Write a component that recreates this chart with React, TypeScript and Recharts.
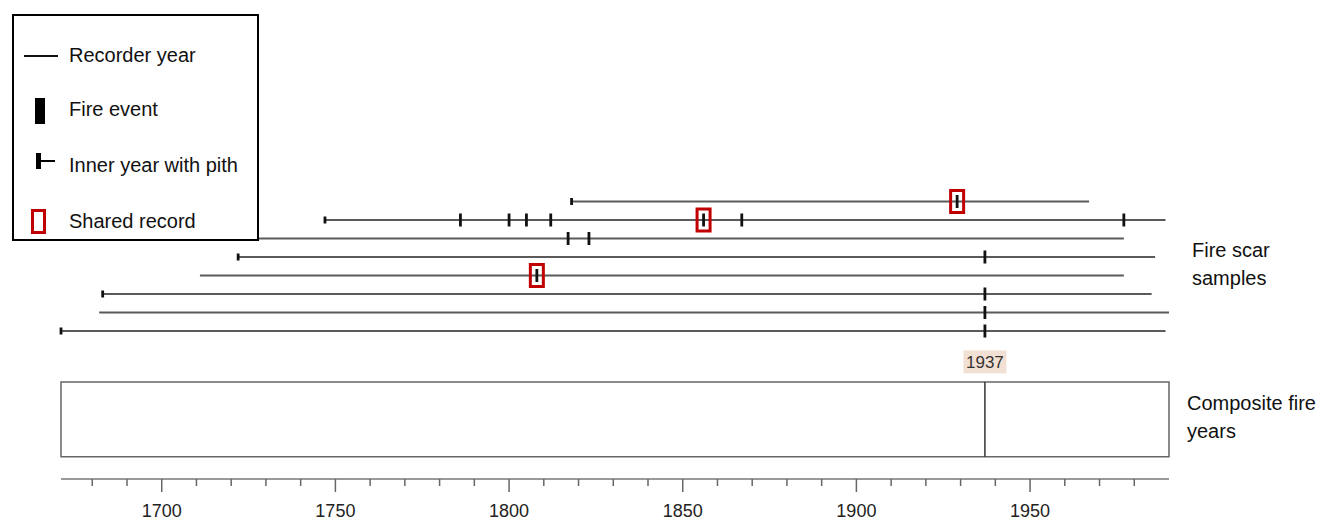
import { ComposedChart, XAxis, YAxis, Scatter, ReferenceLine, ReferenceArea } from 'recharts';

// one entry per fire scar sample, listed top row first
const sampleStart = [1818, 1747, 1715, 1722, 1711, 1683, 1682, 1671];
const sampleEnd = [1967, 1989, 1977, 1986, 1977, 1985, 1990, 1989];
const hasPith = [true, true, false, true, false, true, false, true];
const fireYears = [
  [1929],
  [1786, 1800, 1805, 1812, 1856, 1867, 1977],
  [1817, 1823],
  [1937],
  [1808],
  [1937],
  [1937],
  [1937],
];
const sharedYears = [[1929], [1856], [], [], [1808], [], [], []];
const compositeYears = [1937];

const yearTicks = [
  1680, 1690, 1700, 1710, 1720, 1730, 1740, 1750, 1760, 1770, 1780, 1790, 1800, 1810, 1820,
  1830, 1840, 1850, 1860, 1870, 1880, 1890, 1900, 1910, 1920, 1930, 1940, 1950, 1960, 1970, 1980,
];
const labelTicks = [1700, 1750, 1800, 1850, 1900, 1950];

const FONT = '"Liberation Sans", Arial, sans-serif';
const W = 1322;
const H = 521;
const X_MIN = 1671;
const X_MAX = 1990;
const TOP_ROW = 15;
const rowY = (i: number) => TOP_ROW - i;

const pithPoints = sampleStart
  .map((x, i) => ({ x, y: rowY(i), pith: hasPith[i] }))
  .filter((d) => d.pith);
const firePoints = fireYears.flatMap((yrs, i) => yrs.map((x) => ({ x, y: rowY(i) })));
const sharedPoints = sharedYears.flatMap((yrs, i) => yrs.map((x) => ({ x, y: rowY(i) })));
const compositeLabels = compositeYears.map((x) => ({ x, y: 6.33 }));

const FireTick = (p: any) => (
  <rect x={p.cx - 1.4} y={p.cy - 6.5} width={2.8} height={13} fill="#111" />
);
const PithTick = (p: any) => (
  <rect x={p.cx - 1.4} y={p.cy - 3.5} width={2.8} height={7} fill="#111" />
);
const SharedBox = (p: any) => (
  <rect
    x={p.cx - 6.5}
    y={p.cy - 11}
    width={13}
    height={22}
    fill="none"
    stroke="#c00000"
    strokeWidth={3}
  />
);
const YearTag = (p: any) => (
  <g>
    <rect x={p.cx - 21.5} y={p.cy - 11.5} width={43} height={23} fill="#f3e0d4" />
    <text
      x={p.cx}
      y={p.cy + 6}
      textAnchor="middle"
      fontSize={17}
      fontFamily={FONT}
      fill="#333"
    >
      {String(p.payload.x)}
    </text>
  </g>
);

const YearTick = (props: any) => {
  const { x, y, payload } = props;
  const major = labelTicks.includes(payload.value);
  return (
    <g>
      <line x1={x} x2={x} y1={y} y2={y + (major ? 13 : 7)} stroke="#666" strokeWidth={1.5} />
      {major && (
        <text x={x} y={y + 38} textAnchor="middle" fontSize={18} fontFamily={FONT} fill="#222">
          {payload.value}
        </text>
      )}
    </g>
  );
};

function LegendBox() {
  const item = (top: number, label: string) => (
    <div
      style={{
        position: 'absolute',
        left: 55,
        top: top - 12,
        height: 24,
        lineHeight: '24px',
        whiteSpace: 'nowrap',
      }}
    >
      {label}
    </div>
  );
  return (
    <div
      style={{
        position: 'absolute',
        left: 12,
        top: 14,
        width: 247,
        height: 227,
        border: '2px solid #000',
        boxSizing: 'border-box',
        background: '#fff',
        fontFamily: FONT,
        fontSize: 20,
        color: '#111',
      }}
    >
      <svg width={243} height={223} style={{ position: 'absolute', left: 0, top: 0 }}>
        <line x1={10} x2={44} y1={40} y2={40} stroke="#111" strokeWidth={2} />
        <rect x={21} y={82} width={10} height={26} fill="#000" />
        <rect x={22} y={137} width={5} height={16} fill="#000" />
        <line x1={27} x2={41} y1={145} y2={145} stroke="#000" strokeWidth={2} />
        <rect x={18.5} y={194.5} width={12} height={22} fill="none" stroke="#c00000" strokeWidth={3} />
      </svg>
      {item(39, 'Recorder year')}
      {item(93, 'Fire event')}
      {item(149, 'Inner year with pith')}
      {item(205, 'Shared record')}
    </div>
  );
}

export default function App() {
  return (
    <div style={{ position: 'absolute', left: 0, top: 0, width: W, height: H, background: '#fff' }}>
      <ComposedChart
        width={W}
        height={H}
        margin={{ top: 183, right: 153, bottom: 0, left: 61 }}
      >
        <XAxis
          type="number"
          dataKey="x"
          domain={[X_MIN, X_MAX]}
          ticks={yearTicks}
          interval={0}
          height={42}
          tickSize={0}
          tickMargin={0}
          tickLine={false}
          axisLine={{ stroke: '#777', strokeWidth: 1.5 }}
          tick={<YearTick />}
        />
        <YAxis type="number" dataKey="y" domain={[0, 16]} hide />

        {/* composite record */}
        <ReferenceArea
          x1={X_MIN}
          x2={X_MAX}
          y1={1.2}
          y2={5.25}
          fill="#fff"
          fillOpacity={1}
          stroke="#666"
          strokeWidth={1.5}
        />
        {compositeYears.map((yr) => (
          <ReferenceLine
            key={`c${yr}`}
            segment={[
              { x: yr, y: 1.2 },
              { x: yr, y: 5.25 },
            ]}
            stroke="#333"
            strokeWidth={1.5}
          />
        ))}

        {/* recorder spans */}
        {sampleStart.map((start, i) => (
          <ReferenceLine
            key={`s${i}`}
            segment={[
              { x: start, y: rowY(i) },
              { x: sampleEnd[i], y: rowY(i) },
            ]}
            stroke="#5a5a5a"
            strokeWidth={2}
          />
        ))}

        <Scatter data={pithPoints} shape={PithTick} isAnimationActive={false} />
        <Scatter data={firePoints} shape={FireTick} isAnimationActive={false} />
        <Scatter data={sharedPoints} shape={SharedBox} isAnimationActive={false} />
        <Scatter data={compositeLabels} shape={YearTag} isAnimationActive={false} />
      </ComposedChart>

      <LegendBox />

      <div
        style={{
          position: 'absolute',
          left: 1192,
          top: 237,
          fontFamily: FONT,
          fontSize: 20,
          lineHeight: '27.6px',
          color: '#111',
        }}
      >
        Fire scar
        <br />
        samples
      </div>
      <div
        style={{
          position: 'absolute',
          left: 1187,
          top: 390,
          fontFamily: FONT,
          fontSize: 20,
          lineHeight: '27.6px',
          color: '#111',
        }}
      >
        Composite fire
        <br />
        years
      </div>
    </div>
  );
}
